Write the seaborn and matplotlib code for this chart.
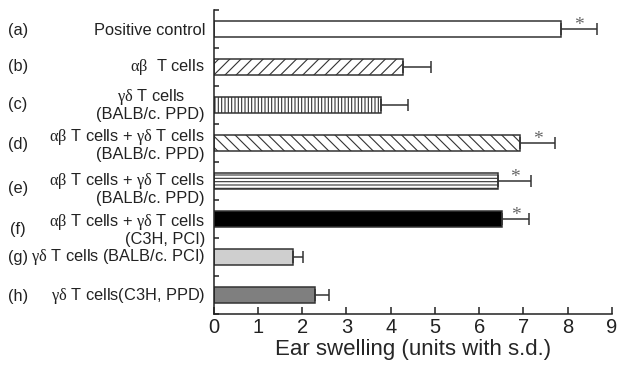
import matplotlib
matplotlib.use("Agg")
import matplotlib.pyplot as plt
import seaborn as sns
import pandas as pd
from matplotlib.ticker import FixedLocator, NullFormatter

# ---- data -------------------------------------------------------------
letters = ["(a)", "(b)", "(c)", "(d)", "(e)", "(f)", "(g)", "(h)"]
groups = [
    "Positive control",
    r"$\mathrm{\alpha\beta}$  T cells",
    "$\\mathrm{\\gamma\\delta}$ T cells\n(BALB/c. PPD)",
    "$\\mathrm{\\alpha\\beta}$ T cells + $\\mathrm{\\gamma\\delta}$ T cells\n(BALB/c. PPD)",
    "$\\mathrm{\\alpha\\beta}$ T cells + $\\mathrm{\\gamma\\delta}$ T cells\n(BALB/c. PPD)",
    "$\\mathrm{\\alpha\\beta}$ T cells + $\\mathrm{\\gamma\\delta}$ T cells\n(C3H, PCI)",
    r"$\mathrm{\gamma\delta}$ T cells (BALB/c. PCI)",
    r"$\mathrm{\gamma\delta}$ T cells(C3H, PPD)",
]
swelling = [7.85, 4.27, 3.78, 6.93, 6.43, 6.52, 1.80, 2.28]
sd = [0.82, 0.65, 0.60, 0.79, 0.75, 0.60, 0.22, 0.33]
significant = [True, False, False, True, True, True, False, False]
xticks = [0, 1, 2, 3, 4, 5, 6, 7, 8, 9]

# ---- styling ----------------------------------------------------------
fills = ["white", "white", "white", "white", "white", "black", "#cfcfcf", "#7f7f7f"]
hatches = ["", "///", "|||||", "\\\\\\", "-----", "", "", ""]
label_shift = [0.05, 0.0, 0.0, 0.05, 0.2, 0.27, 0.0, 0.03]
label_align = ["right", "right", "center", "right", "right", "right", "right", "right"]
edge = "#333333"
text_color = "#222222"

sns.set_theme(style="white")
plt.rcParams["font.family"] = ["Liberation Sans", "DejaVu Sans"]
plt.rcParams["mathtext.fontset"] = "custom"
plt.rcParams["mathtext.rm"] = "Liberation Serif"
plt.rcParams["mathtext.it"] = "Liberation Serif:italic"
plt.rcParams["hatch.linewidth"] = 0.8

df = pd.DataFrame({"key": letters, "value": swelling, "sd": sd})

fig = plt.figure(figsize=(6.17, 3.67), dpi=100)
ax_left, ax_right = 213.7, 612.0
ax = fig.add_axes([ax_left / 617, 0.1444, (ax_right - ax_left) / 617, 0.8284])

sns.barplot(data=df, x="value", y="key", hue="key", palette=fills,
            orient="h", width=0.44, saturation=1, legend=False,
            edgecolor=edge, linewidth=1.1, errorbar=None, ax=ax)

for patch, h in zip(ax.patches, hatches):
    patch.set_hatch(h)
    patch.set_edgecolor(edge)

ypos = list(range(len(letters)))
ax.errorbar(swelling, ypos, xerr=[[0] * len(sd), sd], fmt="none",
            ecolor=edge, elinewidth=1.1, capsize=4.3, capthick=1.1, zorder=1)

for i, (v, s, sig) in enumerate(zip(swelling, sd, significant)):
    if sig:
        ax.text(v + s / 2, i - 0.08, "*", ha="center", va="center",
                fontsize=14, color="#666666", family="Liberation Serif")

# ---- axes -------------------------------------------------------------
ax.set_xlim(0, 9)
ax.set_ylim(7.5, -0.5)
ax.set_xticks(xticks)
ax.set_xticklabels([str(t) for t in xticks], fontsize=14.5)
ax.set_yticks([])
ax.yaxis.set_minor_locator(FixedLocator([k - 0.5 for k in range(len(letters) + 1)]))
ax.yaxis.set_minor_formatter(NullFormatter())
ax.set_ylabel("")
ax.set_xlabel("Ear swelling (units with s.d.)", fontsize=16, labelpad=1)

for side in ["top", "right"]:
    ax.spines[side].set_visible(False)
for side in ["left", "bottom"]:
    ax.spines[side].set_linewidth(1.1)
    ax.spines[side].set_color(text_color)

ax.tick_params(axis="x", which="major", direction="in", length=5, width=1.1,
               color=text_color, pad=3, bottom=True, labelcolor=text_color)
ax.tick_params(axis="y", which="minor", direction="in", length=3.6, width=1.1,
               color=text_color, left=True)

ax_w = ax_right - ax_left
tr = ax.get_yaxis_transform()
for i, (lt, g) in enumerate(zip(letters, groups)):
    y = i + label_shift[i]
    ax.text(-8.7 / ax_w, y, g, transform=tr, ha="right", va="center",
            multialignment=label_align[i], fontsize=11.8, linespacing=1.0,
            color=text_color)
    ax.text(-(ax_left - 18) / ax_w, y, lt, transform=tr, ha="center", va="center",
            fontsize=11.8, color=text_color)

fig.savefig("out.png", dpi=100)
